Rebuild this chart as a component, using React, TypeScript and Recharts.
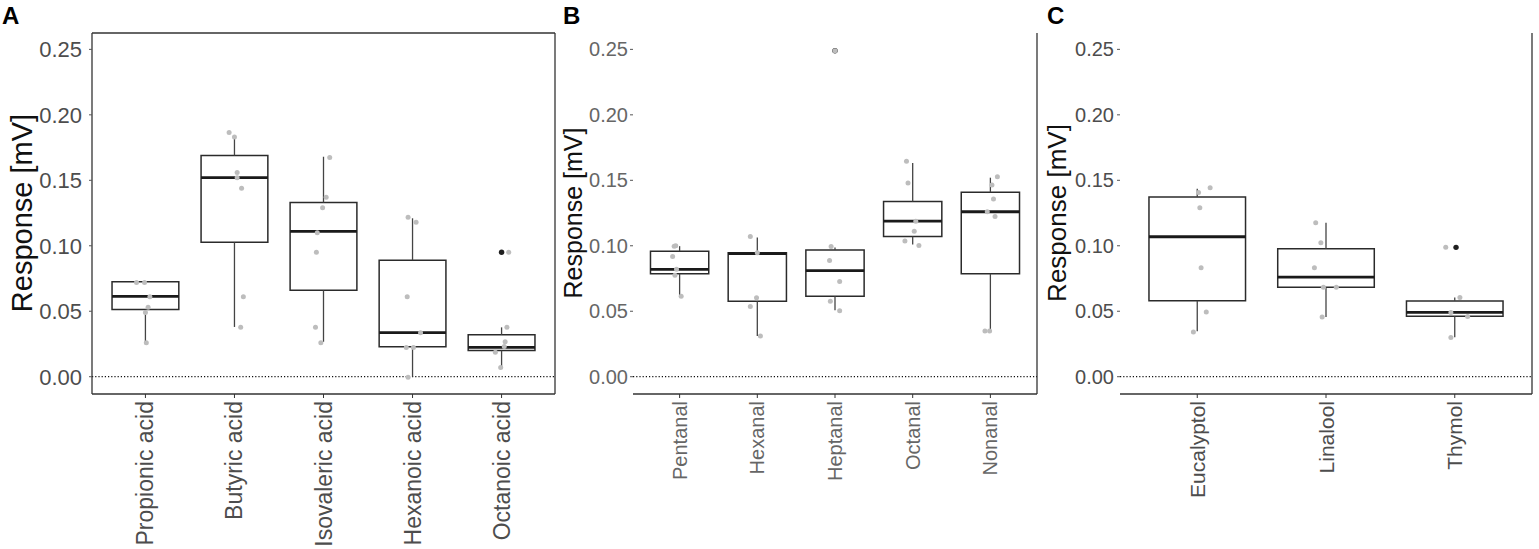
import { ComposedChart, XAxis, YAxis, Scatter, ReferenceLine, ReferenceArea } from "recharts";

const FONT = "'Liberation Sans', Arial, Helvetica, sans-serif";
const H = 549;

const yTicks = [0, 0.05, 0.1, 0.15, 0.2, 0.25];
const yDomain = [-0.0132, 0.2625];

type Box = { lo: number; q1: number; med: number; q3: number; hi: number };

// A - acids
const acidNames = ["Propionic acid", "Butyric acid", "Isovaleric acid", "Hexanoic acid", "Octanoic acid"];
const acidBoxes: Box[] = [
  { lo: 0.026, q1: 0.0514, med: 0.0614, q3: 0.0726, hi: 0.0726 },
  { lo: 0.038, q1: 0.1026, med: 0.152, q3: 0.169, hi: 0.183 },
  { lo: 0.0267, q1: 0.066, med: 0.111, q3: 0.133, hi: 0.168 },
  { lo: 0.0, q1: 0.0229, med: 0.0336, q3: 0.089, hi: 0.121 },
  { lo: 0.007, q1: 0.02, med: 0.0224, q3: 0.032, hi: 0.0377 },
];
// [jitter, value] per category
const acidPoints = [
  [[-0.1, 0.072], [-0.01, 0.072], [0.05, 0.061], [0.03, 0.053], [0, 0.049], [0.01, 0.026]],
  [[-0.06, 0.1866], [0, 0.183], [0.03, 0.156], [0.03, 0.152], [0.08, 0.144], [0.1, 0.061], [0.07, 0.0377]],
  [[0.07, 0.1675], [0.03, 0.137], [-0.01, 0.129], [-0.07, 0.11], [-0.08, 0.095], [-0.09, 0.0377], [-0.03, 0.026]],
  [[-0.05, 0.1217], [0.04, 0.118], [-0.06, 0.061], [0.09, 0.0336], [-0.07, 0.0224], [0.01, 0.0224], [-0.05, -0.0005]],
  [[0.08, 0.095], [0.06, 0.0377], [0.04, 0.0267], [0.03, 0.023], [-0.07, 0.0186], [-0.01, 0.0071]],
];
// [category, jitter, value]
const acidOutliers = [[5, 0, 0.095]];

// B - aldehydes
const aldNames = ["Pentanal", "Hexanal", "Heptanal", "Octanal", "Nonanal"];
const aldBoxes: Box[] = [
  { lo: 0.0622, q1: 0.0787, med: 0.082, q3: 0.0959, hi: 0.0997 },
  { lo: 0.031, q1: 0.0576, med: 0.094, q3: 0.0947, hi: 0.1063 },
  { lo: 0.0508, q1: 0.0614, med: 0.081, q3: 0.0967, hi: 0.0987 },
  { lo: 0.101, q1: 0.1071, med: 0.1188, q3: 0.1338, hi: 0.1632 },
  { lo: 0.035, q1: 0.0787, med: 0.126, q3: 0.1409, hi: 0.152 },
];
const aldPoints = [
  [[-0.07, 0.0997], [-0.05, 0.1], [-0.09, 0.0919], [-0.04, 0.082], [-0.06, 0.0774], [0.02, 0.0614]],
  [[-0.09, 0.107], [0, 0.0947], [-0.01, 0.0604], [-0.09, 0.0536], [0.04, 0.031]],
  [[-0.05, 0.0995], [-0.07, 0.0888], [0.06, 0.0728], [-0.06, 0.0576], [0.06, 0.0503], [0, 0.249]],
  [[-0.08, 0.1645], [-0.06, 0.148], [0.04, 0.1188], [0.02, 0.111], [-0.1, 0.1036], [0.08, 0.1003]],
  [[0.09, 0.1528], [0.02, 0.1464], [0.04, 0.1358], [-0.04, 0.126], [0.06, 0.1223], [-0.07, 0.035], [-0.01, 0.035]],
];
const aldOutliers = [[3, 0, 0.249]];

// C - terpenes
const terpNames = ["Eucalyptol", "Linalool", "Thymol"];
const terpBoxes: Box[] = [
  { lo: 0.0347, q1: 0.058, med: 0.1069, q3: 0.1373, hi: 0.1436 },
  { lo: 0.0456, q1: 0.0684, med: 0.076, q3: 0.0978, hi: 0.1175 },
  { lo: 0.0301, q1: 0.0461, med: 0.0491, q3: 0.0578, hi: 0.0605 },
];
const terpPoints = [
  [[0.1, 0.1444], [0.01, 0.1406], [0.02, 0.129], [0.03, 0.0833], [0.07, 0.0494], [-0.03, 0.0342]],
  [[-0.08, 0.1175], [-0.04, 0.1023], [-0.09, 0.0833], [-0.02, 0.0684], [0.08, 0.0684], [-0.03, 0.0456]],
  [[-0.07, 0.0988], [0.04, 0.0605], [-0.03, 0.0491], [0.1, 0.046], [-0.03, 0.03]],
];
const terpOutliers = [[3, 0.01, 0.0988]];

const XTick = (props: any) => {
  const { x, y, payload, names, fontSize, fill } = props;
  const label = names[Math.round(payload.value) - 1];
  return (
    <text
      x={x}
      y={y}
      transform={`rotate(-90 ${x} ${y})`}
      textAnchor="end"
      dominantBaseline="central"
      fontSize={fontSize}
      fill={fill}
      fontFamily={FONT}
    >
      {label}
    </text>
  );
};

const GrayDot = (p: any) => <circle cx={p.cx} cy={p.cy} r={2.5} fill="#bdbdbd" />;
const DarkDot = (p: any) => <circle cx={p.cx} cy={p.cy} r={2.7} fill="#1f1f1f" />;

interface PanelProps {
  left: number;
  width: number;
  yAxisWidth: number;
  marginRight: number;
  names: string[];
  boxes: Box[];
  points: number[][][];
  outliers: number[][];
  tickFont: number;
  tickColor: string;
  tickGap: number;
  xFont: number;
  labelFont: number;
  labelX: number;
  letter: string;
  letterX: number;
  framed?: boolean;
}

const Panel = (p: PanelProps) => {
  const n = p.names.length;
  const xMax = n + 0.6;
  const jitter = p.points.flatMap((pts, i) => pts.map(([dx, v]) => ({ x: i + 1 + dx, y: v })));
  const outs = p.outliers.map(([c, dx, v]) => ({ x: c + dx, y: v }));
  const hw = 0.375;

  return (
    <div style={{ position: "absolute", left: p.left, top: 0 }}>
      <ComposedChart
        width={p.width}
        height={H}
        margin={{ top: 33, right: p.marginRight, bottom: 0, left: 0 }}
      >
        <XAxis
          type="number"
          dataKey="x"
          domain={[0.4, xMax]}
          allowDataOverflow
          ticks={p.names.map((_, i) => i + 1)}
          interval={0}
          height={155}
          tickSize={4}
          tickMargin={3}
          axisLine={{ stroke: "#333", strokeWidth: 1.3 }}
          tickLine={{ stroke: "#333" }}
          tick={<XTick names={p.names} fontSize={p.xFont} fill={p.tickColor} />}
        />
        <YAxis
          type="number"
          dataKey="y"
          domain={yDomain}
          allowDataOverflow
          ticks={yTicks}
          interval={0}
          width={p.yAxisWidth}
          axisLine={p.framed ? { stroke: "#333", strokeWidth: 1.3 } : false}
          tickLine={{ stroke: "#555" }}
          tickSize={3}
          tickMargin={p.tickGap}
          tick={{ fill: p.tickColor, fontSize: p.tickFont, fontFamily: FONT }}
          tickFormatter={(v: number) => v.toFixed(2)}
          label={{
            content: () => (
              <g>
                <text
                  x={p.labelX}
                  y={213}
                  transform={`rotate(-90 ${p.labelX} 213)`}
                  textAnchor="middle"
                  dominantBaseline="central"
                  fontSize={p.labelFont}
                  fill="#111"
                  fontFamily={FONT}
                >
                  Response [mV]
                </text>
                <text x={p.letterX} y={24} fontSize={24} fontWeight="bold" fill="#000" fontFamily={FONT}>
                  {p.letter}
                </text>
              </g>
            ),
          }}
        />
        {p.framed && <ReferenceLine y={yDomain[1]} stroke="#333" strokeWidth={1.3} />}
        <ReferenceLine x={xMax} stroke="#333" strokeWidth={1.3} />
        <ReferenceLine y={0} stroke="#111" strokeWidth={1.2} strokeDasharray="1.2 2" />
        {p.boxes.map((b, i) => (
          <ReferenceLine
            key={`wh${i}`}
            segment={[{ x: i + 1, y: b.q3 }, { x: i + 1, y: b.hi }]}
            stroke="#444"
            strokeWidth={1.3}
          />
        ))}
        {p.boxes.map((b, i) => (
          <ReferenceLine
            key={`wl${i}`}
            segment={[{ x: i + 1, y: b.lo }, { x: i + 1, y: b.q1 }]}
            stroke="#444"
            strokeWidth={1.3}
          />
        ))}
        {p.boxes.map((b, i) => (
          <ReferenceArea
            key={`bx${i}`}
            x1={i + 1 - hw}
            x2={i + 1 + hw}
            y1={b.q1}
            y2={b.q3}
            fill="none"
            fillOpacity={0}
            stroke="#2b2b2b"
            strokeWidth={1.5}
            strokeOpacity={1}
          />
        ))}
        {p.boxes.map((b, i) => (
          <ReferenceLine
            key={`md${i}`}
            segment={[{ x: i + 1 - hw, y: b.med }, { x: i + 1 + hw, y: b.med }]}
            stroke="#1a1a1a"
            strokeWidth={2.8}
          />
        ))}
        <Scatter data={outs} shape={DarkDot} isAnimationActive={false} />
        <Scatter data={jitter} shape={GrayDot} isAnimationActive={false} />
      </ComposedChart>
    </div>
  );
};

export default function App() {
  return (
    <div style={{ position: "absolute", left: 0, top: 0, width: 1539, height: H, background: "#fff" }}>
      <Panel
        left={0}
        width={560}
        yAxisWidth={92}
        marginRight={5}
        names={acidNames}
        boxes={acidBoxes}
        points={acidPoints}
        outliers={acidOutliers}
        tickFont={22}
        tickColor="#4d4d4d"
        tickGap={7}
        xFont={23}
        labelFont={29}
        labelX={22}
        letter="A"
        letterX={2}
        framed
      />
      <Panel
        left={555}
        width={485}
        yAxisWidth={78}
        marginRight={3}
        names={aldNames}
        boxes={aldBoxes}
        points={aldPoints}
        outliers={aldOutliers}
        tickFont={20}
        tickColor="#666"
        tickGap={2}
        xFont={20}
        labelFont={25}
        labelX={18}
        letter="B"
        letterX={8}
      />
      <Panel
        left={1037}
        width={502}
        yAxisWidth={83}
        marginRight={7}
        names={terpNames}
        boxes={terpBoxes}
        points={terpPoints}
        outliers={terpOutliers}
        tickFont={20}
        tickColor="#4d4d4d"
        tickGap={3}
        xFont={21}
        labelFont={26}
        labelX={20}
        letter="C"
        letterX={10}
      />
    </div>
  );
}
